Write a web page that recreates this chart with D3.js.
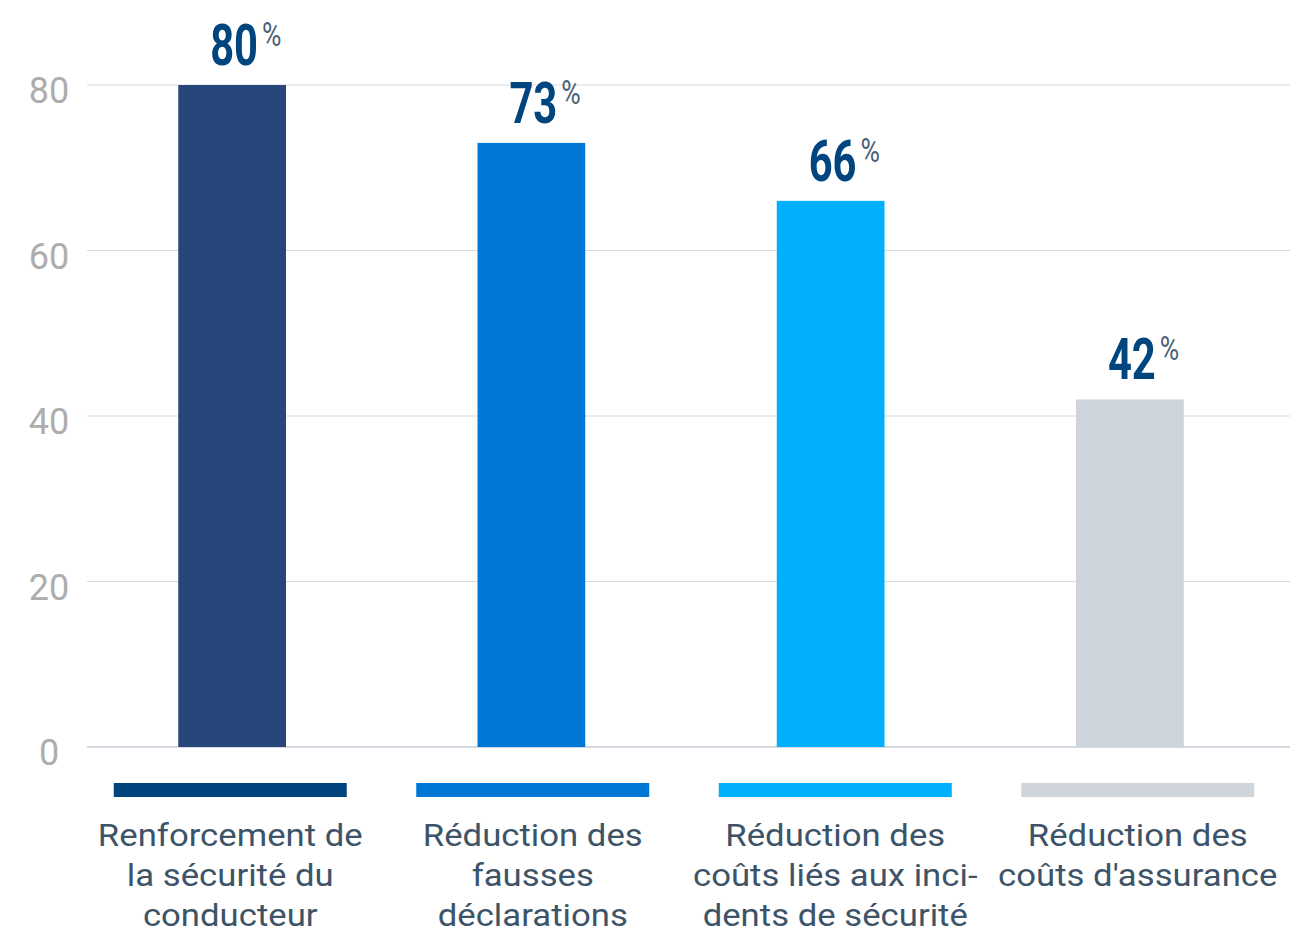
<!DOCTYPE html>
<html lang="fr">
  <head>
    <meta charset="UTF-8" />
    <title>Bénéfices</title>
    <script src="https://d3js.org/d3.v7.min.js"></script>
    <style>
      body { margin: 0; background: #fff; }
      svg { display: block; font-family: Roboto, sans-serif; }
      .tick-label { font-size: 36px; fill: #adadad; }
      .value { font-size: 58px; font-weight: 700; fill: #00457e; }
      .pct { font-size: 34px; fill: #4a6178; }
      .legend-text { font-size: 31px; fill: #3d5468; }
    </style>
  </head>
  <body>
    <svg id="chart" width="1290" height="935"></svg>
    <script>
      // data
      const categories = [
        "Renforcement de la sécurité du conducteur",
        "Réduction des fausses déclarations",
        "Réduction des coûts liés aux incidents de sécurité",
        "Réduction des coûts d'assurance"
      ];
      const labelLines = [
        ["Renforcement de", "la sécurité du", "conducteur"],
        ["Réduction des", "fausses", "déclarations"],
        ["Réduction des", "coûts liés aux inci-", "dents de sécurité"],
        ["Réduction des", "coûts d'assurance"]
      ];
      const values = [80, 73, 66, 42];
      const yTicks = [0, 20, 40, 60, 80];
      const barColors = ["#27477a", "#0077d4", "#00b0ff", "#cdd4dc"];
      const legendColors = ["#00457e", "#0077d4", "#00b0ff", "#d0d5dc"];

      const width = 1290;
      const svg = d3.select("#chart");

      const y = d3.scaleLinear().domain([0, 80]).range([747, 85]);
      const x = d3
        .scaleBand()
        .domain(categories)
        .range([82.5, 1279.5])
        .paddingInner(0.64)
        .paddingOuter(0.32);
      const xLegend = d3.scaleBand().domain(categories).range([79, 1289]);

      // grid
      svg
        .append("g")
        .selectAll("line")
        .data(yTicks)
        .join("line")
        .attr("x1", 87)
        .attr("x2", width)
        .attr("y1", (d) => y(d))
        .attr("y2", (d) => y(d))
        .attr("stroke", "#d6d9e1")
        .attr("stroke-width", (d) => (d === 0 ? 2 : 1.2));

      svg
        .append("g")
        .selectAll("text")
        .data(yTicks)
        .join("text")
        .attr("class", "tick-label")
        .attr("x", 49)
        .attr("y", (d) => y(d) + 18)
        .attr("text-anchor", "middle")
        .text((d) => d);

      // bars
      svg
        .append("g")
        .selectAll("rect")
        .data(values)
        .join("rect")
        .attr("x", (d, i) => x(categories[i]))
        .attr("y", (d) => y(d))
        .attr("width", x.bandwidth())
        .attr("height", (d) => y(0) - y(d))
        .attr("fill", (d, i) => barColors[i]);

      // value labels
      const labels = svg
        .append("g")
        .selectAll("g")
        .data(values)
        .join("g")
        .attr("transform", (d, i) => `translate(${x(categories[i]) + x.bandwidth() / 2 + 2},${y(d) - 20})`);

      labels
        .append("text")
        .attr("class", "value")
        .attr("text-anchor", "middle")
        .attr("transform", "scale(0.72,1)")
        .text((d) => d);

      labels.each(function () {
        const g = d3.select(this);
        const w = g.select(".value").node().getComputedTextLength() * 0.72;
        g.append("text")
          .attr("class", "pct")
          .attr("transform", `translate(${w / 2 + 4},-19) scale(0.78,1)`)
          .text("%");
      });

      // legend
      const legend = svg
        .append("g")
        .selectAll("g")
        .data(categories)
        .join("g")
        .attr("transform", (d) => `translate(${xLegend(d) + xLegend.bandwidth() / 2},0)`);

      legend
        .append("rect")
        .attr("x", -116.5)
        .attr("y", 783)
        .attr("width", 233)
        .attr("height", 14)
        .attr("fill", (d, i) => legendColors[i]);

      legend
        .append("text")
        .attr("class", "legend-text")
        .attr("text-anchor", "middle")
        .attr("transform", "scale(1.12,1)")
        .selectAll("tspan")
        .data((d, i) => labelLines[i])
        .join("tspan")
        .attr("x", 0)
        .attr("y", (d, j) => 846 + j * 40)
        .text((d) => d);
    </script>
  </body>
</html>
